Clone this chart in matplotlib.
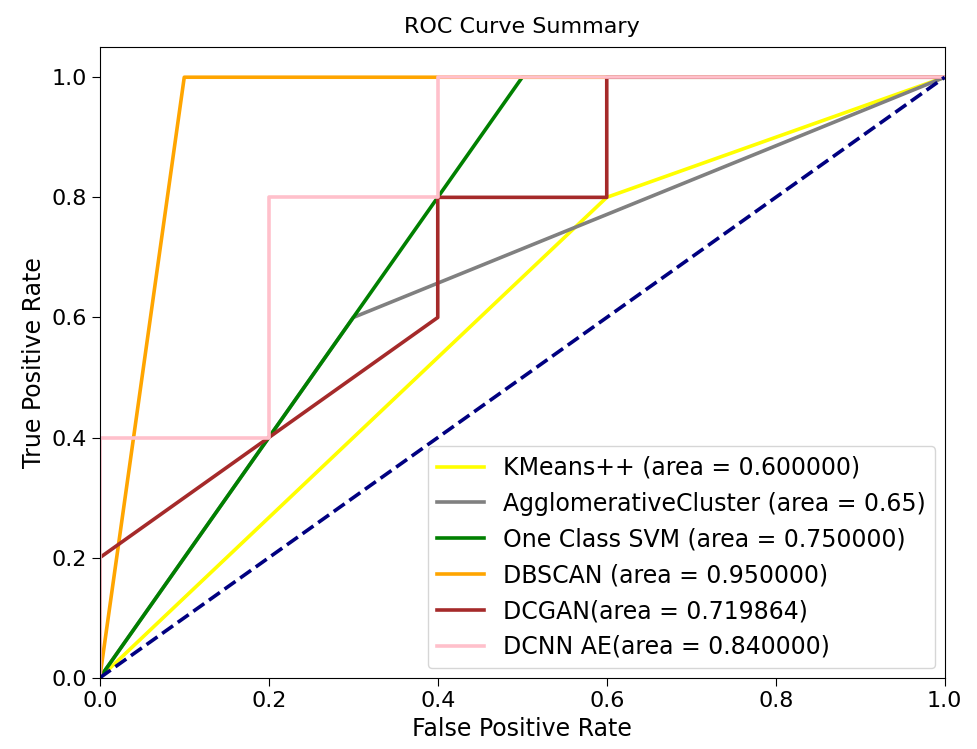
import matplotlib
matplotlib.use("Agg")
import matplotlib.pyplot as plt

# ROC points
kmeans_fpr = [0.0, 0.6, 1.0]
kmeans_tpr = [0.0, 0.8, 1.0]
agglo_fpr = [0.0, 0.3, 1.0]
agglo_tpr = [0.0, 0.6, 1.0]
svm_fpr = [0.0, 0.5, 1.0]
svm_tpr = [0.0, 1.0, 1.0]
dbscan_fpr = [0.0, 0.1, 1.0]
dbscan_tpr = [0.0, 1.0, 1.0]
dcgan_fpr = [0.0, 0.0, 0.2, 0.4, 0.4, 0.6, 0.6, 1.0]
dcgan_tpr = [0.0, 0.2, 0.4, 0.6, 0.8, 0.8, 1.0, 1.0]
ae_fpr = [0.0, 0.0, 0.2, 0.2, 0.4, 0.4, 1.0]
ae_tpr = [0.0, 0.4, 0.4, 0.8, 0.8, 1.0, 1.0]

labels = ["KMeans++ (area = 0.600000)",
          "AgglomerativeCluster (area = 0.65)",
          "One Class SVM (area = 0.750000)",
          "DBSCAN (area = 0.950000)",
          "DCGAN(area = 0.719864)",
          "DCNN AE(area = 0.840000)"]
colors = ["yellow", "gray", "green", "orange", "brown", "pink"]

fig = plt.figure(figsize=(9.78, 7.49), dpi=100)
ax = fig.add_axes([0.102, 0.095, 0.864, 0.842])

curves = [(kmeans_fpr, kmeans_tpr), (agglo_fpr, agglo_tpr), (svm_fpr, svm_tpr),
          (dbscan_fpr, dbscan_tpr), (dcgan_fpr, dcgan_tpr), (ae_fpr, ae_tpr)]
for (fx, ty), lab, c in zip(curves, labels, colors):
    ax.plot(fx, ty, color=c, lw=2.6, label=lab)

# chance line
ax.plot([0, 1], [0, 1], color="navy", lw=2.6, linestyle="--")

ax.set_xlim(0.0, 1.0)
ax.set_ylim(0.0, 1.05)
ax.tick_params(labelsize=16, length=6)
ax.set_xlabel("False Positive Rate", fontsize=17)
ax.set_ylabel("True Positive Rate", fontsize=17)
ax.set_title("ROC Curve Summary", fontsize=16, pad=10)
ax.legend(loc="lower right", fontsize=17, borderaxespad=0.4)

fig.savefig("out.png", dpi=100)
